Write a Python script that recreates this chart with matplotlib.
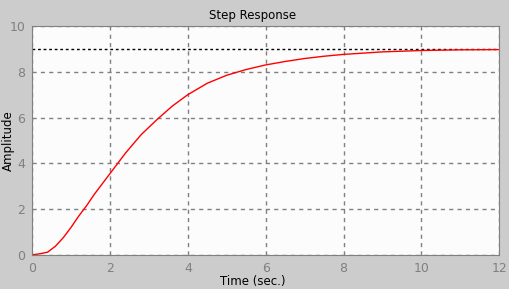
import numpy as np
import matplotlib
matplotlib.use("Agg")
import matplotlib.pyplot as plt

# step response
time_s = [0, 0.2, 0.4, 0.6, 0.8, 1.0, 1.2, 1.4, 1.6, 1.8, 2.0, 2.4, 2.8,
          3.2, 3.6, 4.0, 4.5, 5.0, 5.5, 6.0, 6.5, 7.0, 7.5, 8.0, 9.0,
          10.0, 11.0, 12.0]
amplitude = [0, 0.05, 0.12, 0.38, 0.75, 1.2, 1.7, 2.15, 2.65, 3.1, 3.55,
             4.45, 5.25, 5.9, 6.5, 7.0, 7.5, 7.85, 8.1, 8.3, 8.45, 8.58,
             8.68, 8.76, 8.87, 8.93, 8.96, 8.97]
final_value = 9.0
x_ticks = [0, 2, 4, 6, 8, 10, 12]
y_ticks = [0, 2, 4, 6, 8, 10]

fig = plt.figure(figsize=(5.09, 2.89), dpi=100, facecolor="#cccccc")
ax = fig.add_axes([0.063, 0.118, 0.918, 0.792])
ax.set_facecolor("#fcfcfc")

ax.axhline(final_value, color="black", lw=1, ls=(0, (2, 2)))
ax.plot(time_s, amplitude, color="red", lw=1)

ax.set_xlim(0, 12)
ax.set_ylim(0, 10)
ax.set_xticks(x_ticks)
ax.set_yticks(y_ticks)
ax.grid(True, color="#808080", ls=(0, (3, 3)), lw=1)
ax.tick_params(length=0, labelsize=9, labelcolor="#808080", pad=5)
for s in ax.spines.values():
    s.set_color("#808080")

# title and xlabel sit a bit left of the axes centre in the original
ax.set_title("Step Response", fontsize=8.5, pad=5, x=0.472)
ax.set_xlabel("Time (sec.)", fontsize=8.5)
ax.xaxis.set_label_coords(0.472, -0.088)
ax.set_ylabel("Amplitude", fontsize=8.5)
ax.yaxis.set_label_coords(-0.036, 0.5)

fig.savefig("out.png", dpi=100, facecolor=fig.get_facecolor())
